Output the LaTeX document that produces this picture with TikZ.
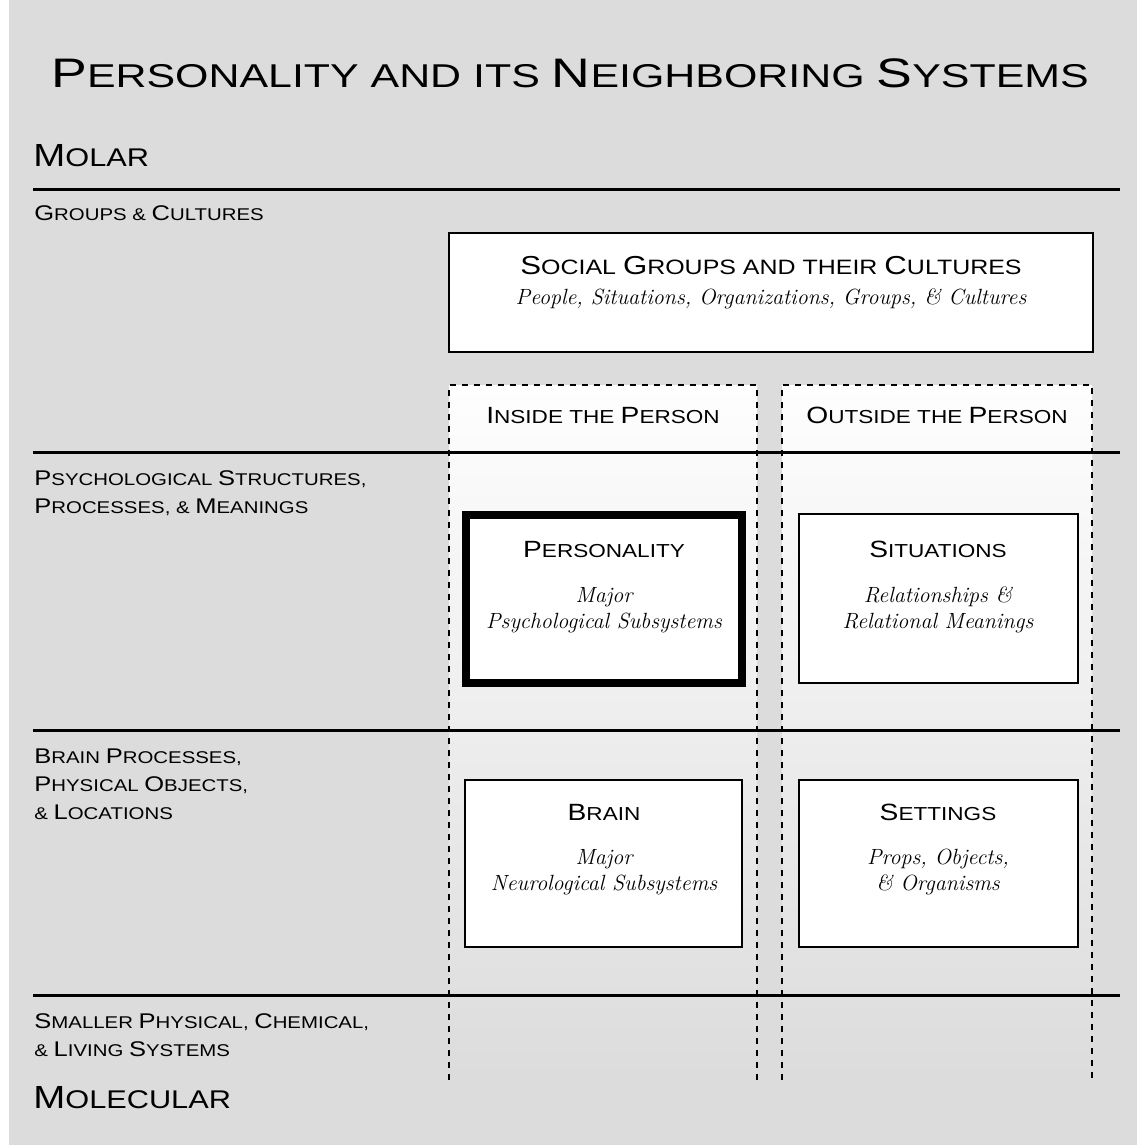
\documentclass[tikz,border=0pt]{standalone}
\usepackage{fontspec}
\usepackage{graphicx}
\newfontfamily\capfont[FakeStretch=1.2]{Liberation Sans}
\newfontfamily\titlefont[FakeStretch=1.3]{Liberation Sans}
\newcommand{\B}[1]{\scalebox{1.25}{#1}}
\definecolor{bggray}{HTML}{DCDCDC}
\tikzset{
  rowline/.style={line width=1.5pt},
  colline/.style={line width=1pt,dash pattern=on 3pt off 3pt},
  sysbox/.style={draw,fill=white,line width=1pt},
  corebox/.style={draw,fill=white,line width=4pt},
  rowlabel/.style={anchor=base west,inner sep=0pt,align=left,font=\capfont\fontsize{8.5}{14}\selectfont},
  boxtitle/.style={anchor=base,inner sep=0pt,font=\capfont\fontsize{9.4}{11}\selectfont},
  boxtext/.style={anchor=base,inner sep=0pt,font=\itshape\fontsize{11}{13}\selectfont,align=center},
  bigtag/.style={anchor=base west,inner sep=0pt,font=\capfont\fontsize{12.8}{14}\selectfont},
}

\begin{document}
\begin{tikzpicture}[x=0.5pt,y=-0.5pt]
\useasboundingbox (0,0) rectangle (1137,1145);
\fill[white] (0,0) rectangle (1137,1145);
\fill[bggray] (9,0) rectangle (1137,1145);

% columns, inside and outside the person
\shade[top color=white!97!bggray,bottom color=bggray] (449,385) rectangle (757,1080);
\shade[top color=white!97!bggray,bottom color=bggray] (782,385) rectangle (1092,1080);
\draw[colline] (449,1080) -- (449,385) -- (757,385) -- (757,1080);
\draw[colline] (782,1080) -- (782,385) -- (1092,385) -- (1092,1080);

% title and scale ends
\node (title) at (570,88) [anchor=base,inner sep=0pt,font=\titlefont\fontsize{16.5}{18}\selectfont]
  {\B{P}ERSONALITY AND ITS \B{N}EIGHBORING \B{S}YSTEMS};
\node (molar) at (33,166) [bigtag] {\B{M}OLAR};
\node (molec) at (33,1108) [bigtag] {\B{M}OLECULAR};

% row lines
\draw[rowline] (33,189) -- (1120,189);
\draw[rowline] (33,452) -- (1120,452);
\draw[rowline] (33,730) -- (1120,730);
\draw[rowline] (33,995) -- (1120,995);

% row labels (base = last line)
\node (groups) at (34,220) [rowlabel] {\B{G}ROUPS \& \B{C}ULTURES};
\node (psych) at (34,513) [rowlabel]
  {\B{P}SYCHOLOGICAL \B{S}TRUCTURES,\\\B{P}ROCESSES, \& \B{M}EANINGS};
\node (brainrow) at (34,819) [rowlabel]
  {\B{B}RAIN \B{P}ROCESSES,\\\B{P}HYSICAL \B{O}BJECTS,\\\& \B{L}OCATIONS};
\node (small) at (34,1056) [rowlabel]
  {\B{S}MALLER \B{P}HYSICAL, \B{C}HEMICAL,\\\& \B{L}IVING \B{S}YSTEMS};

% social groups
\draw[sysbox] (449,233) rectangle (1093,352);
\node (social) at (771,274) [boxtitle,font=\capfont\fontsize{10.4}{12}\selectfont]
  {\B{S}OCIAL \B{G}ROUPS AND THEIR \B{C}ULTURES};
\node (socialsub) at (771,304) [boxtext] {People, Situations, Organizations, Groups, \& Cultures};

% column heads
\node (inside) at (603,423) [boxtitle] {\B{I}NSIDE THE \B{P}ERSON};
\node (outside) at (937,423) [boxtitle] {\B{O}UTSIDE THE \B{P}ERSON};

% personality and situations
\draw[corebox] (466,515) rectangle (742,683);
\node (pers) at (604,557) [boxtitle] {\B{P}ERSONALITY};
\node (perssub) at (604,628) [boxtext] {Major\\Psychological Subsystems};
\draw[sysbox] (799,514) rectangle (1078,683);
\node (sit) at (938,557) [boxtitle] {\B{S}ITUATIONS};
\node (sitsub) at (938,628) [boxtext] {Relationships \&\\Relational Meanings};

% brain and settings
\draw[sysbox] (465,780) rectangle (742,947);
\node (brain) at (604,820) [boxtitle] {\B{B}RAIN};
\node (brainsub) at (604,890) [boxtext] {Major\\Neurological Subsystems};
\draw[sysbox] (799,780) rectangle (1078,947);
\node (set) at (938,820) [boxtitle] {\B{S}ETTINGS};
\node (setsub) at (938,890) [boxtext] {Props, Objects,\\\& Organisms};
\end{tikzpicture}
\end{document}
